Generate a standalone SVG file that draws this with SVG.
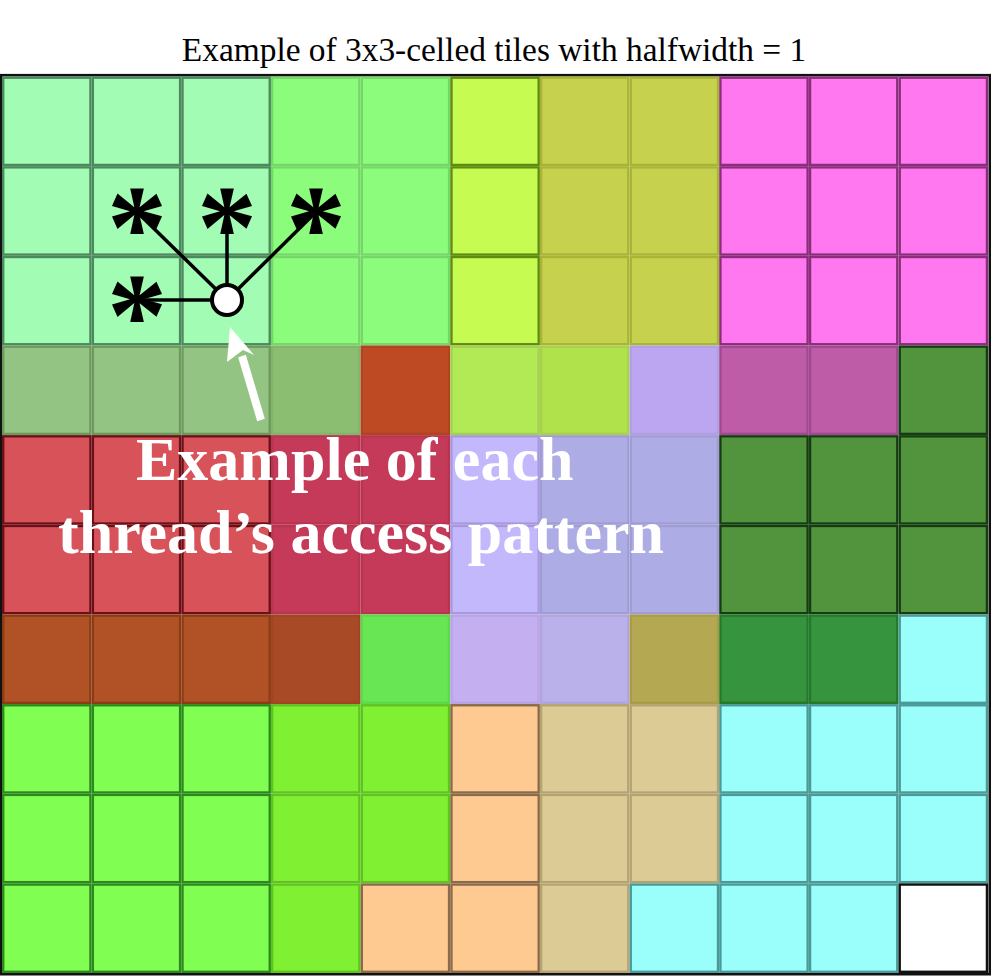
<svg xmlns="http://www.w3.org/2000/svg" xmlns:xlink="http://www.w3.org/1999/xlink" width="991" height="976" viewBox="0 0 991 976">
<style>
.t{font-family:"Liberation Serif","Times New Roman",serif}
use{stroke-width:2.4}
.a{fill:#a3fcb4;stroke:#4b8a5c}
.b{fill:#8cfc7c;stroke:#74d866}
.c{fill:#c6fc52;stroke:#5f8c0e}
.d{fill:#c6d24e;stroke:#a8b436}
.e{fill:#ff78f0;stroke:#8c2c7c}
.f{fill:#94c484;stroke:#6c9a5c}
.g{fill:#8cbe72;stroke:#84b46a}
.h{fill:#be4a24;stroke:#b04420}
.i{fill:#b2ea56;stroke:#a4d050}
.j{fill:#b0e24c;stroke:#a8d04c}
.k{fill:#bca6f2;stroke:#b0a0e0}
.l{fill:#be5ca8;stroke:#a04890}
.m{fill:#52943e;stroke:#163c12}
.n{fill:#d8525a;stroke:#6c1018}
.o{fill:#c43a58;stroke:#b83552}
.p{fill:#c4b8fc;stroke:#a898dc}
.q{fill:#aeace4;stroke:#a09cd4}
.r{fill:#b05226;stroke:#8c3c14}
.s{fill:#a84a26;stroke:#a04424}
.u{fill:#68e654;stroke:#60d84c}
.v{fill:#c4b0f0;stroke:#b8a4e4}
.w{fill:#bab0ea;stroke:#b0a4dc}
.x{fill:#b4a852;stroke:#a89c48}
.y{fill:#36943e;stroke:#247a2a}
.z{fill:#9afffa;stroke:#4a9a98}
.A{fill:#80ff52;stroke:#2c8a1c}
.B{fill:#80f032;stroke:#60c420}
.C{fill:#ffca92;stroke:#8a6a48}
.D{fill:#ddcb95;stroke:#b4a472}
.E{fill:#ffffff;stroke:#111111}
.ast{font-family:"Liberation Serif","Times New Roman",serif;font-weight:bold;font-size:120px;text-anchor:middle;fill:#000}
.lnk{stroke:#000;stroke-width:3.5;fill:none}
</style>
<defs><rect id="cell" width="87.25" height="87.25"/></defs>
<text class="t" x="494" y="61" font-size="33.4" text-anchor="middle" fill="#000">Example of 3x3-celled tiles with halfwidth = 1</text>
<rect x="1.2" y="75.2" width="988.6" height="899" fill="none" stroke="#111" stroke-width="2.6"/>
<g id="grid">
<g id="row0">
<use href="#cell" x="3.2" y="77.7" class="a"/><use href="#cell" x="92.85" y="77.7" class="a"/><use href="#cell" x="182.5" y="77.7" class="a"/><use href="#cell" x="272.15" y="77.7" class="b"/><use href="#cell" x="361.8" y="77.7" class="b"/><use href="#cell" x="451.45" y="77.7" class="c"/><use href="#cell" x="541.1" y="77.7" class="d"/><use href="#cell" x="630.75" y="77.7" class="d"/><use href="#cell" x="720.4" y="77.7" class="e"/><use href="#cell" x="810.05" y="77.7" class="e"/><use href="#cell" x="899.7" y="77.7" class="e"/>
</g>
<g id="row1">
<use href="#cell" x="3.2" y="167.35" class="a"/><use href="#cell" x="92.85" y="167.35" class="a"/><use href="#cell" x="182.5" y="167.35" class="a"/><use href="#cell" x="272.15" y="167.35" class="b"/><use href="#cell" x="361.8" y="167.35" class="b"/><use href="#cell" x="451.45" y="167.35" class="c"/><use href="#cell" x="541.1" y="167.35" class="d"/><use href="#cell" x="630.75" y="167.35" class="d"/><use href="#cell" x="720.4" y="167.35" class="e"/><use href="#cell" x="810.05" y="167.35" class="e"/><use href="#cell" x="899.7" y="167.35" class="e"/>
</g>
<g id="row2">
<use href="#cell" x="3.2" y="257" class="a"/><use href="#cell" x="92.85" y="257" class="a"/><use href="#cell" x="182.5" y="257" class="a"/><use href="#cell" x="272.15" y="257" class="b"/><use href="#cell" x="361.8" y="257" class="b"/><use href="#cell" x="451.45" y="257" class="c"/><use href="#cell" x="541.1" y="257" class="d"/><use href="#cell" x="630.75" y="257" class="d"/><use href="#cell" x="720.4" y="257" class="e"/><use href="#cell" x="810.05" y="257" class="e"/><use href="#cell" x="899.7" y="257" class="e"/>
</g>
<g id="row3">
<use href="#cell" x="3.2" y="346.65" class="f"/><use href="#cell" x="92.85" y="346.65" class="f"/><use href="#cell" x="182.5" y="346.65" class="f"/><use href="#cell" x="272.15" y="346.65" class="g"/><use href="#cell" x="361.8" y="346.65" class="h"/><use href="#cell" x="451.45" y="346.65" class="i"/><use href="#cell" x="541.1" y="346.65" class="j"/><use href="#cell" x="630.75" y="346.65" class="k"/><use href="#cell" x="720.4" y="346.65" class="l"/><use href="#cell" x="810.05" y="346.65" class="l"/><use href="#cell" x="899.7" y="346.65" class="m"/>
</g>
<g id="row4">
<use href="#cell" x="3.2" y="436.3" class="n"/><use href="#cell" x="92.85" y="436.3" class="n"/><use href="#cell" x="182.5" y="436.3" class="n"/><use href="#cell" x="272.15" y="436.3" class="o"/><use href="#cell" x="361.8" y="436.3" class="o"/><use href="#cell" x="451.45" y="436.3" class="p"/><use href="#cell" x="541.1" y="436.3" class="q"/><use href="#cell" x="630.75" y="436.3" class="q"/><use href="#cell" x="720.4" y="436.3" class="m"/><use href="#cell" x="810.05" y="436.3" class="m"/><use href="#cell" x="899.7" y="436.3" class="m"/>
</g>
<g id="row5">
<use href="#cell" x="3.2" y="525.95" class="n"/><use href="#cell" x="92.85" y="525.95" class="n"/><use href="#cell" x="182.5" y="525.95" class="n"/><use href="#cell" x="272.15" y="525.95" class="o"/><use href="#cell" x="361.8" y="525.95" class="o"/><use href="#cell" x="451.45" y="525.95" class="p"/><use href="#cell" x="541.1" y="525.95" class="q"/><use href="#cell" x="630.75" y="525.95" class="q"/><use href="#cell" x="720.4" y="525.95" class="m"/><use href="#cell" x="810.05" y="525.95" class="m"/><use href="#cell" x="899.7" y="525.95" class="m"/>
</g>
<g id="row6">
<use href="#cell" x="3.2" y="615.6" class="r"/><use href="#cell" x="92.85" y="615.6" class="r"/><use href="#cell" x="182.5" y="615.6" class="r"/><use href="#cell" x="272.15" y="615.6" class="s"/><use href="#cell" x="361.8" y="615.6" class="u"/><use href="#cell" x="451.45" y="615.6" class="v"/><use href="#cell" x="541.1" y="615.6" class="w"/><use href="#cell" x="630.75" y="615.6" class="x"/><use href="#cell" x="720.4" y="615.6" class="y"/><use href="#cell" x="810.05" y="615.6" class="y"/><use href="#cell" x="899.7" y="615.6" class="z"/>
</g>
<g id="row7">
<use href="#cell" x="3.2" y="705.25" class="A"/><use href="#cell" x="92.85" y="705.25" class="A"/><use href="#cell" x="182.5" y="705.25" class="A"/><use href="#cell" x="272.15" y="705.25" class="B"/><use href="#cell" x="361.8" y="705.25" class="B"/><use href="#cell" x="451.45" y="705.25" class="C"/><use href="#cell" x="541.1" y="705.25" class="D"/><use href="#cell" x="630.75" y="705.25" class="D"/><use href="#cell" x="720.4" y="705.25" class="z"/><use href="#cell" x="810.05" y="705.25" class="z"/><use href="#cell" x="899.7" y="705.25" class="z"/>
</g>
<g id="row8">
<use href="#cell" x="3.2" y="794.9" class="A"/><use href="#cell" x="92.85" y="794.9" class="A"/><use href="#cell" x="182.5" y="794.9" class="A"/><use href="#cell" x="272.15" y="794.9" class="B"/><use href="#cell" x="361.8" y="794.9" class="B"/><use href="#cell" x="451.45" y="794.9" class="C"/><use href="#cell" x="541.1" y="794.9" class="D"/><use href="#cell" x="630.75" y="794.9" class="D"/><use href="#cell" x="720.4" y="794.9" class="z"/><use href="#cell" x="810.05" y="794.9" class="z"/><use href="#cell" x="899.7" y="794.9" class="z"/>
</g>
<g id="row9">
<use href="#cell" x="3.2" y="884.55" class="A"/><use href="#cell" x="92.85" y="884.55" class="A"/><use href="#cell" x="182.5" y="884.55" class="A"/><use href="#cell" x="272.15" y="884.55" class="B"/><use href="#cell" x="361.8" y="884.55" class="C"/><use href="#cell" x="451.45" y="884.55" class="C"/><use href="#cell" x="541.1" y="884.55" class="D"/><use href="#cell" x="630.75" y="884.55" class="z"/><use href="#cell" x="720.4" y="884.55" class="z"/><use href="#cell" x="810.05" y="884.55" class="z"/><use href="#cell" x="899.7" y="884.55" class="E"/>
</g>
</g>
<g id="connectors">
<line class="lnk" x1="227" y1="300" x2="137" y2="212"/>
<line class="lnk" x1="227" y1="300" x2="227" y2="212"/>
<line class="lnk" x1="227" y1="300" x2="316" y2="212"/>
<line class="lnk" x1="227" y1="300" x2="137" y2="300"/>
</g>
<g id="thread"><circle cx="227" cy="300" r="15" fill="#fff" stroke="#000" stroke-width="4"/></g>
<g id="asterisks">
<text class="ast" x="137" y="268">*</text>
<text class="ast" x="227" y="268">*</text>
<text class="ast" x="316" y="268">*</text>
<text class="ast" x="137" y="356">*</text>
</g>
<g id="callout">
<line x1="261" y1="420" x2="242" y2="356" stroke="#fff" stroke-width="8"/>
<polygon points="230,327 254,355 243,350 227,362" fill="#fff"/>
<text class="t" font-weight="bold" font-size="62" fill="#fff"><tspan x="136" y="480">Example of each</tspan><tspan x="58" y="553">thread’s access pattern</tspan></text>
</g>
</svg>
